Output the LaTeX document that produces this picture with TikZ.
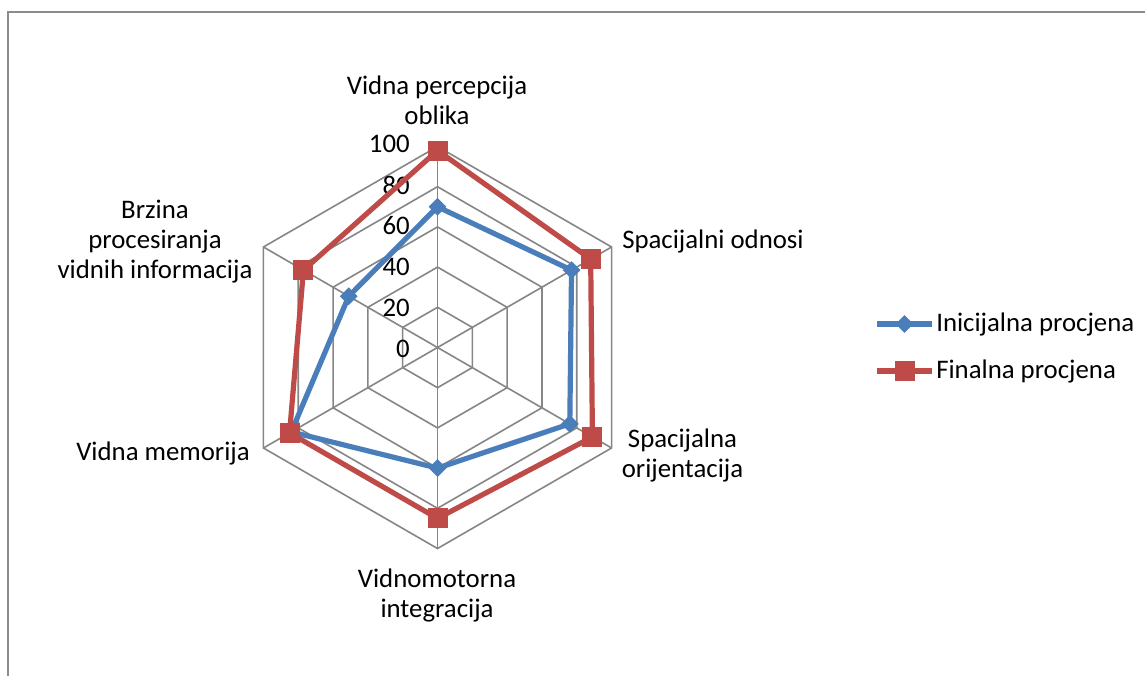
\documentclass[tikz,border=0pt]{standalone}
\usepackage{fontspec}
\setmainfont{Carlito}
\usetikzlibrary{shapes.geometric}
\definecolor{gridgray}{RGB}{134,134,134}
\definecolor{framegray}{RGB}{140,140,140}
\definecolor{serblue}{RGB}{74,126,187}
\definecolor{serred}{RGB}{190,75,72}
\begin{document}
\begin{tikzpicture}[x=0.75pt,y=-0.75pt,
  grid/.style={draw=gridgray,line width=1.2pt},
  serb/.style={draw=serblue,line width=3.9pt,line join=round},
  serr/.style={draw=serred,line width=3.9pt,line join=round},
  bmark/.style={diamond,fill=serblue,inner sep=0pt,minimum width=13.5pt,minimum height=13.5pt},
  rmark/.style={rectangle,fill=serred,inner sep=0pt,minimum size=15pt},
  lab/.style={font=\fontsize{20.1}{22.5}\selectfont,align=center,inner sep=0pt},
  tickl/.style={font=\fontsize{20.1}{22.5}\selectfont,anchor=east,inner sep=0pt}]
\def\cx{437.5}
\def\cy{347.5}
\def\sc{2.01}
\useasboundingbox (0,0) rectangle (1145,675);
\fill[white] (0,0) rectangle (1145,675);
% chart frame
\coordinate (fbl) at (8,690);
\coordinate (ftl) at (8,12);
\coordinate (ftr) at (1160,12);
\draw[framegray,line width=1.5pt] (fbl) -- (ftl) -- (ftr);
% rings
\foreach \r in {20,40,60,80,100}{
  \draw[grid] ({\cx+\sc*\r*cos(90)},{\cy-\sc*\r*sin(90)})
    \foreach \a in {30,-30,-90,-150,150}{ -- ({\cx+\sc*\r*cos(\a)},{\cy-\sc*\r*sin(\a)}) } -- cycle;
}
% spokes
\coordinate (ctr) at (\cx,\cy);
\foreach \a/\n in {90/s0,30/s1,-30/s2,-90/s3,-150/s4,150/s5}{
  \coordinate (\n) at ({\cx+\sc*100*cos(\a)},{\cy-\sc*100*sin(\a)});
  \draw[grid] (ctr) -- (\n);
}
% tick labels
\foreach \t/\k in {0/0,20/1,40/2,60/3,80/4,100/5}{
  \node[tickl] (t\k) at (410,{349-41*\k}) {\t};
}
% data coordinates
\foreach \v/\a/\n in {70/90/b0,77/30/b1,76/-30/b2,60/-90/b3,84/-150/b4,51/150/b5}{
  \coordinate (\n) at ({\cx+\sc*\v*cos(\a)},{\cy-\sc*\v*sin(\a)});
}
\foreach \v/\a/\n in {98/90/r0,88/30/r1,89/-30/r2,85/-90/r3,85/-150/r4,77/150/r5}{
  \coordinate (\n) at ({\cx+\sc*\v*cos(\a)},{\cy-\sc*\v*sin(\a)});
}
% blue series
\draw[serb] (b0) -- (b1) -- (b2) -- (b3) -- (b4) -- (b5) -- cycle;
\foreach \n in {b0,b1,b2,b3,b4,b5}{ \node[bmark] (m\n) at (\n) {}; }
% red series
\draw[serr] (r0) -- (r1) -- (r2) -- (r3) -- (r4) -- (r5) -- cycle;
\foreach \n in {r0,r1,r2,r3,r4,r5}{ \node[rmark] (m\n) at (\n) {}; }
% category labels
\node[lab] (c0) at (437,100) {Vidna percepcija\\oblika};
\node[lab,anchor=west] (c1) at (622,241) {Spacijalni odnosi};
\node[lab] (c2) at (682.5,455) {Spacijalna\\orijentacija};
\node[lab] (c3) at (437,595) {Vidnomotorna\\integracija};
\node[lab,anchor=east] (c4) at (250,453) {Vidna memorija};
\node[lab] (c5) at (155,242) {Brzina\\procesiranja\\vidnih informacija};
% legend
\coordinate (lb1) at (877,324);
\coordinate (lb2) at (932,324);
\draw[serb] (lb1) -- (lb2);
\node[bmark] (lbm) at (904.5,324) {};
\node[lab,anchor=west] (lbt) at (936,324) {Inicijalna procjena};
\coordinate (lr1) at (877,371);
\coordinate (lr2) at (932,371);
\draw[serr] (lr1) -- (lr2);
\node[rmark] (lrm) at (904.5,371) {};
\node[lab,anchor=west] (lrt) at (936,371) {Finalna procjena};
\end{tikzpicture}
\end{document}
